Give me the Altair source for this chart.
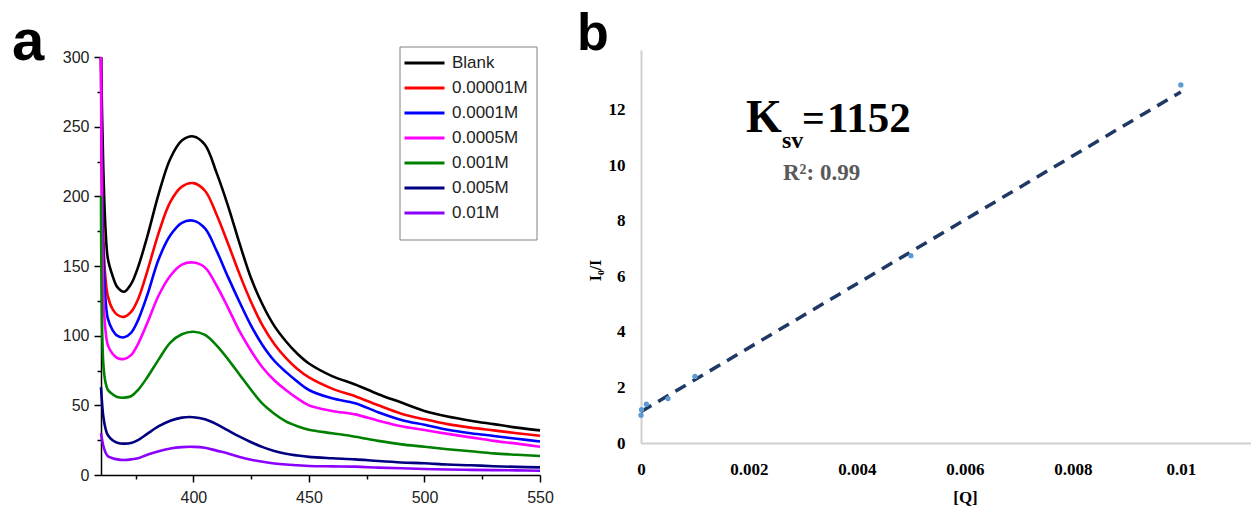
import altair as alt
import pandas as pd

# ---------------- Panel a: emission spectra ----------------
wavelengths = [360, 361, 362, 363, 365, 367, 370, 373, 376, 380, 385, 390, 395, 400,
               405, 410, 415, 420, 425, 430, 435, 440, 445, 450, 460, 470, 480, 490,
               500, 510, 520, 530, 540, 550]

blank = [300, 220, 175, 155, 143, 135, 131.5, 137, 149, 171, 202, 227, 240, 243,
         237, 217, 193, 166, 141, 122, 107, 96, 87, 80, 71, 65, 58, 52,
         46, 42, 39, 36.5, 34, 32]
c_00001 = [300, 170, 140, 128, 119, 115, 113.5, 117, 126, 146, 174, 196, 207, 209.5,
           204, 187, 166, 144, 124, 107, 94, 84, 76, 70, 62, 56.5, 50, 44,
           40, 36.5, 34, 32, 30, 28.2]
c_0001 = [300, 160, 125, 112, 104, 100, 98.8, 102, 111, 129, 155, 172, 181, 182.5,
          177, 161, 142, 124, 107, 93, 82, 74, 67, 61, 55, 51.5, 45, 39.5,
          36, 32.5, 30, 28, 26, 24]
c_0005 = [300, 130, 103, 93, 87, 84, 83.3, 86, 94, 109, 129, 143, 151, 152.5,
          149, 136, 120, 103, 89, 77, 68, 61, 55, 50, 46, 43.5, 39, 35,
          32.3, 29.5, 27, 24.5, 22.5, 20.3]
c_001 = [200, 80, 66, 61, 58, 56, 55.5, 56.5, 61, 70, 83, 95, 101, 102.8,
         100.5, 93, 83, 72, 61, 51, 44, 38.5, 35, 32.5, 30, 27.5, 24.5, 22,
         20.3, 18.5, 17, 15.5, 14.5, 13.6]
c_005 = [63, 42, 33, 28.5, 25, 23.2, 22.5, 23, 25, 29.5, 35, 39, 41.2, 41.5,
         40, 36.5, 32, 27.5, 23.5, 20, 17.3, 15.3, 14, 13, 12, 11.2, 10, 9,
         8.4, 7.5, 7, 6.3, 5.8, 5.5]
c_01 = [30, 21, 16, 13.5, 12, 11.2, 10.8, 11.2, 12, 14.5, 17, 19, 20, 20.2,
        19.5, 17.5, 15.5, 13, 11, 9.5, 8.3, 7.5, 7, 6.5, 6.2, 6, 5.3, 4.8,
        4.3, 4, 3.7, 3.5, 3.3, 3.1]

series_names = ["Blank", "0.00001M", "0.0001M", "0.0005M", "0.001M", "0.005M", "0.01M"]
series_values = [blank, c_00001, c_0001, c_0005, c_001, c_005, c_01]
series_colors = ["#000000", "#ff0000", "#0000ff", "#ff00ff", "#008000", "#000080", "#8b00ff"]

x_ticks_a = [375, 400, 425, 450, 475, 500, 525, 550]
y_ticks_a = [0, 25, 50, 75, 100, 125, 150, 175, 200, 225, 250, 275, 300]

# ---------------- Panel b: Stern-Volmer plot ----------------
q_conc = [0, 0.00001, 0.0001, 0.0005, 0.001, 0.005, 0.01]
i0_over_i = [1.0, 1.2, 1.4, 1.6, 2.4, 6.75, 12.9]
fit_q = [0, 0.01]
fit_ratio = [1.13, 12.65]
x_ticks_b = [0, 0.002, 0.004, 0.006, 0.008, 0.01]
y_ticks_b = [0, 2, 4, 6, 8, 10, 12]

rows = []
for name, vals in zip(series_names, series_values):
    for w, v in zip(wavelengths, vals):
        rows.append({"wavelength": w, "intensity": v, "series": name})
df_a = pd.DataFrame(rows)
df_pts = pd.DataFrame({"q": q_conc, "ratio": i0_over_i})
df_fit = pd.DataFrame({"q": fit_q, "ratio": fit_ratio})

W, H = 1251, 506
SANS = "Liberation Sans"
SERIF = "Liberation Serif"

major_tick = {"condition": {"test": "datum.value % 50 === 0", "value": 7}, "value": 4}

lines_a = alt.Chart(df_a).mark_line(strokeWidth=2.6, interpolate="catmull-rom").encode(
    x=alt.X("wavelength:Q",
            scale=alt.Scale(domain=[360, 550], range=[101, 540], nice=False, zero=False),
            axis=alt.Axis(orient="bottom", offset=475 - H, values=x_ticks_a,
                          labelExpr="datum.value % 50 === 0 ? datum.label : ''",
                          labelFlush=False,
                          title=None, grid=False, domainColor="#000", domainWidth=1.5,
                          tickColor="#000", tickWidth=1.5, tickSize=major_tick,
                          labelFont=SANS, labelFontSize=16, labelColor="#222",
                          labelPadding=7)),
    y=alt.Y("intensity:Q",
            scale=alt.Scale(domain=[0, 300], range=[475, 57], nice=False),
            axis=alt.Axis(orient="left", offset=-101, values=y_ticks_a,
                          labelExpr="datum.value % 50 === 0 ? datum.label : ''",
                          title=None, grid=False, domainColor="#000", domainWidth=1.5,
                          tickColor="#000", tickWidth=1.5, tickSize=major_tick,
                          labelFont=SANS, labelFontSize=16, labelColor="#222",
                          labelPadding=5)),
    color=alt.Color("series:N",
                    scale=alt.Scale(domain=series_names, range=series_colors),
                    legend=alt.Legend(orient="none", legendX=403, legendY=53, title=None,
                                      symbolType="stroke", symbolSize=1600,
                                      symbolStrokeWidth=3, labelFont=SANS,
                                      labelFontSize=17, labelColor="#222",
                                      labelOffset=6, clipHeight=20, rowPadding=5,
                                      padding=0)),
    order=alt.Order("wavelength:Q"),
)

legend_box = alt.Chart(pd.DataFrame({"k": [0]})).mark_rect(
    fill="white", stroke="#808080", strokeWidth=1).encode(
    x=alt.value(400), x2=alt.value(537), y=alt.value(47), y2=alt.value(240))

xb = alt.X("q:Q",
           scale=alt.Scale(domain=[0, 0.0113], range=[641, 1251], nice=False, zero=False),
           axis=alt.Axis(orient="bottom", offset=443 - H, values=x_ticks_b, format="~g",
                         labelFlush=False,
                         grid=False, ticks=False, tickSize=0, domainColor="#d0d0d0",
                         domainWidth=2, labelFont=SERIF, labelFontWeight="bold",
                         labelFontSize=17, labelColor="#000", labelPadding=18,
                         title="[Q]", titleFont=SERIF, titleFontWeight="bold",
                         titleFontSize=17, titleColor="#000", titleX=965,
                         titleY=46, titleAlign="center", titleBaseline="top"))
yb = alt.Y("ratio:Q",
           scale=alt.Scale(domain=[0, 14.16], range=[443, 50], nice=False),
           axis=alt.Axis(orient="left", offset=-641, values=y_ticks_b, grid=False,
                         ticks=False, tickSize=0, domainColor="#d0d0d0", domainWidth=2,
                         labelFont=SERIF, labelFontWeight="bold", labelFontSize=17,
                         labelColor="#000", labelPadding=16,
                         title="I₀/I", titleFont=SERIF, titleFontWeight="bold",
                         titleFontSize=16, titleColor="#000", titleX=-46, titleY=270,
                         titleAlign="center", titleBaseline="middle"))

fit_b = alt.Chart(df_fit).mark_line(color="#1f3864", strokeWidth=3.5,
                                    strokeDash=[12, 8]).encode(x=xb, y=yb)
pts_b = alt.Chart(df_pts).mark_circle(color="#5b9bd5", size=28, opacity=1).encode(
    x=xb, y=yb)
panel_b = alt.layer(fit_b, pts_b)


def label(txt, x, y, size, font, weight="bold", color="#000"):
    return alt.Chart(pd.DataFrame({"t": [txt]})).mark_text(
        font=font, fontSize=size, fontWeight=weight, color=color,
        align="left", baseline="alphabetic").encode(
        text="t:N", x=alt.value(x), y=alt.value(y))


texts = [
    label("a", 12, 60, 58, SANS),
    label("b", 577, 50, 52, SANS),
    label("K", 746, 132, 46, SERIF),
    label("sv", 782, 148, 24, SERIF),
    label("=", 802, 132, 40, SERIF),
    label("1152", 827, 132, 43, SERIF),
    label("R²: 0.99", 783, 180, 23, SERIF, color="#595959"),
]

chart = alt.layer(legend_box, lines_a, panel_b, *texts).resolve_scale(
    x="independent", y="independent", color="independent"
).properties(
    width=W, height=H, padding=0, autosize=alt.AutoSizeParams(type="none"),
    background="white"
).configure_view(stroke=None)

chart.save("out.html", embed_options={"renderer": "svg", "actions": False})
